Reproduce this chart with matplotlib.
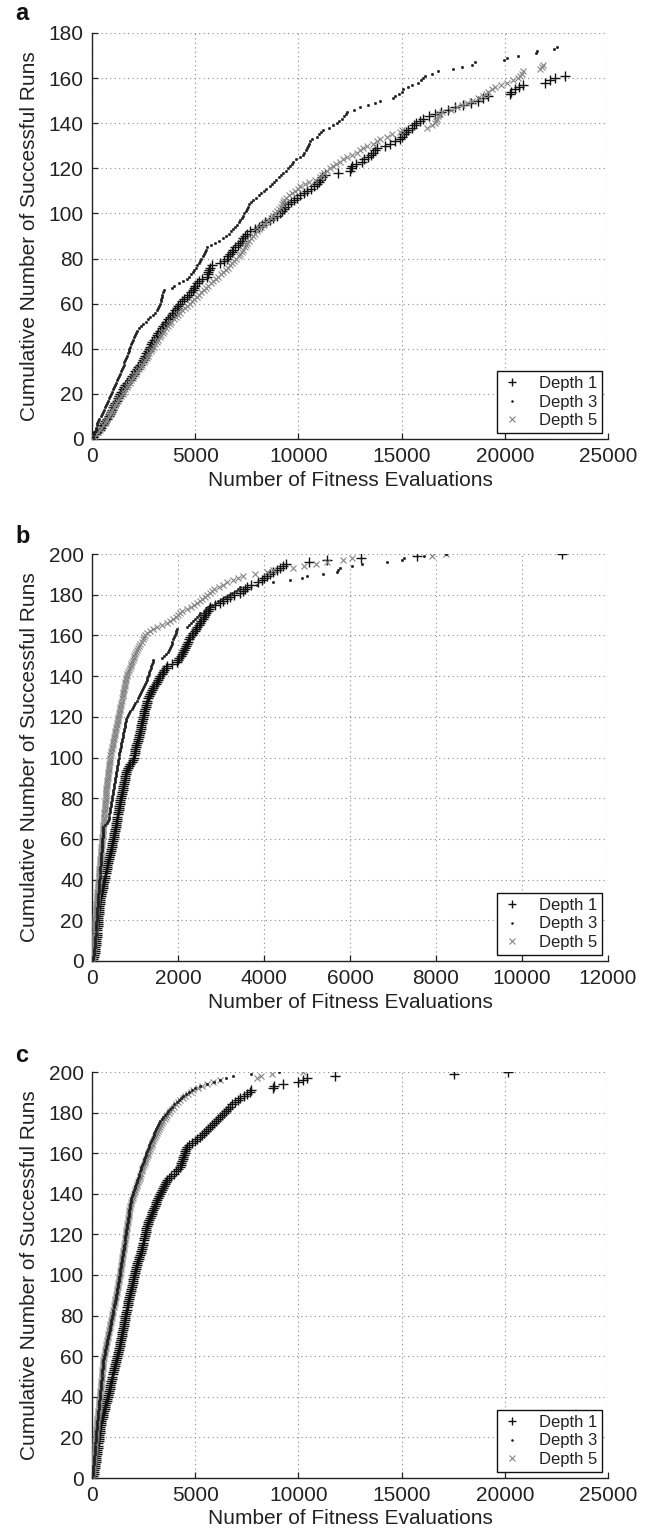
import matplotlib
matplotlib.use("Agg")
import matplotlib.pyplot as plt
import numpy as np

plt.rcParams['font.family'] = ['Liberation Sans', 'DejaVu Sans']

# ---------------- data: fitness evaluations at which each successful run finished ----------------
# Panel a
a_depth1 = [60, 150, 240, 390, 430, 520, 600, 650, 730, 800, 870, 930, 960, 1010, 1080, 1130, 1190, 1240, 1300, 1360,
            1410, 1480, 1530, 1600, 1700, 1840, 1880, 1950, 2040, 2090, 2160, 2250, 2330, 2400, 2460, 2510, 2580, 2630, 2690, 2750, 2810,
            2870, 2920, 3010, 3080, 3150, 3220, 3300, 3380, 3460, 3520, 3600, 3680, 3780, 3880, 3940, 4020, 4100, 4180, 4270, 4370, 4480, 4590,
            4680, 4790, 4870, 4950, 5010, 5070, 5200, 5330, 5560, 5600, 5640, 5690, 5720, 5800, 6200, 6380, 6520, 6610, 6700, 6780, 6850,
            6930, 7050, 7150, 7250, 7330, 7420, 7530, 7650, 7900, 8100, 8220, 8400, 8600, 8780, 8950, 9100, 9200, 9280, 9350, 9500, 9650, 9800, 9950, 10080,
            10250, 10400, 10600, 10750, 10890, 11000, 11050, 11150, 11290, 11940, 12500, 12530, 12580, 12800, 13070, 13200, 13390,
            13500, 13620, 13700, 13790, 14200, 14440, 14700, 14900, 15000, 15100, 15200, 15330, 15500, 15600, 15700,
            15900, 16050, 16350, 16620, 16900, 17260, 17600, 17990, 18350, 18720, 18950, 19200,
            20250, 20300, 20500, 20700, 20900, 21950, 22200, 22430, 22920]
a_depth3 = [30, 80, 120, 170, 200, 230, 260, 300, 360, 420, 480, 540, 590, 640, 700, 750, 790, 830, 870,
            920, 970, 1010, 1060, 1110, 1150, 1200, 1260, 1300, 1350, 1390, 1440, 1480, 1530, 1570, 1620, 1650, 1690,
            1730, 1770, 1810, 1850, 1890, 1930, 1970, 2020, 2070, 2120, 2170,
            2260, 2380, 2490, 2600, 2700, 2830, 2950, 3050, 3130,
            3200, 3250, 3290, 3320, 3350, 3380, 3410, 3440, 3470,
            3900, 3960, 4200, 4400, 4590,
            4700, 4800, 4880, 4960, 5020, 5100, 5160, 5230, 5300, 5360, 5420, 5480, 5530, 5580,
            5750, 5950, 6150, 6350, 6500, 6620, 6750, 6850,
            6950, 7030, 7100, 7180, 7250, 7310, 7380, 7440, 7500, 7560, 7630, 7700, 7810,
            7950, 8100, 8200, 8350, 8450, 8600, 8700, 8800, 8900, 9050, 9150, 9270,
            9400, 9500, 9600, 9680, 9750, 9900, 10080,
            10200, 10280, 10350, 10400, 10450, 10500, 10560, 10650,
            10890, 11000, 11100, 11210, 11500, 11700, 11850,
            11950, 12100, 12200, 12300, 12340, 12700, 12990,
            13350, 13700, 13950, 14600,
            14700, 14850, 15000, 15050, 15300, 15490,
            15800, 15950, 16050, 16130,
            16450, 16780, 17500, 17940, 18400, 18560,
            19950, 20090, 20660, 21500, 21580, 22400, 22520]
a_depth5 = [80, 180, 280, 380, 450, 530, 610, 680, 740, 800, 860, 930, 990, 1050, 1110, 1180, 1250, 1320, 1400, 1480,
            1550, 1610, 1680, 1760, 1830, 1900, 1980, 2050, 2130, 2200, 2280, 2360, 2430, 2500, 2580, 2650, 2720, 2780, 2850, 2920,
            2990, 3060, 3130, 3200, 3280, 3350, 3430, 3510, 3600, 3680, 3760, 3850, 3950, 4050, 4150, 4260, 4370, 4490, 4610, 4730,
            4850, 4960, 5080, 5190, 5300, 5420, 5530, 5640, 5760, 5880, 6000, 6120, 6240, 6360, 6480, 6600, 6700, 6800, 6900, 7000,
            7100, 7180, 7260, 7330, 7400, 7460, 7520, 7600, 7700, 7800, 7900, 8000, 8100, 8200, 8320, 8440, 8550, 8650, 8760, 8870,
            8980, 9080, 9150, 9200, 9250, 9300, 9420, 9560, 9700, 9840, 9980, 10100, 10300, 10500, 10800, 11050,
            11150, 11250, 11400, 11550, 11700, 11800, 12000, 12150, 12340, 12600, 12820, 13000, 13150, 13300,
            13600, 13800, 13950, 14300, 14520, 14920, 15000, 16215, 16450, 16618,
            16650, 16700, 16750, 16850, 16950, 17400, 17700, 17910, 18150, 18400,
            18718, 18950, 19100, 19200, 19400, 19525, 19800, 20092,
            20400, 20650, 20750, 20850, 20900, 21700, 21800, 21870]

# Panel b
b_depth1 = [30, 40, 50, 60, 66, 72, 78, 84, 90, 96, 100, 105, 110, 115, 120, 124, 128, 132, 136, 140,
            145, 150, 155, 160, 164, 168, 172, 176, 181, 186,
            196, 206, 216, 226, 236, 246, 256, 266, 276, 286, 298, 308, 318, 329, 340,
            350, 360, 371, 382, 392, 403, 413, 424, 434, 445, 455, 466, 476, 486, 496,
            505, 514, 522, 531, 540, 548, 557, 566, 574, 583, 592, 600, 608, 617, 626, 634, 643, 651,
            661, 671, 680, 690, 700, 710, 720, 729, 739, 749, 758, 768, 778, 788, 797, 807,
            830, 860, 890, 920, 961, 970, 980, 990, 1000,
            1010, 1020, 1030, 1045, 1060, 1075, 1090, 1100, 1110, 1120, 1130, 1140, 1150, 1160, 1170, 1180, 1190, 1200, 1210, 1220, 1235, 1250, 1260, 1272,
            1290, 1310, 1330, 1360, 1380, 1400, 1420, 1450, 1480, 1505,
            1530, 1560, 1590, 1620, 1650, 1680, 1710, 1737,
            1850, 1970,
            2000, 2030, 2060, 2090, 2110, 2140, 2160, 2180, 2203,
            2230, 2260, 2290, 2330, 2360, 2390, 2420, 2450, 2480, 2512,
            2540, 2570, 2600, 2630, 2660, 2690, 2720, 2745,
            2850, 2977, 3050, 3150, 3210, 3300, 3442,
            3500, 3560, 3598, 3700, 3869, 3950, 4000, 4063,
            4150, 4218, 4300, 4380, 4450, 4510,
            5040, 5460, 6257, 7567, 10925]
b_depth3 = [20, 30, 40, 45, 50, 55, 60, 64, 68, 72, 76, 80, 84, 88, 92, 95, 98, 101, 104, 107,
            110, 113, 116, 119, 122, 125, 128, 131, 135, 140,
            144, 147, 151, 154, 158, 161, 164, 168, 171, 174, 178, 181, 185, 188, 191, 195, 198, 202, 205, 208,
            212, 215, 219, 222, 225, 229, 232, 236, 239, 242, 246, 249, 253, 256, 259, 263,
            300, 340, 370, 390, 400, 405, 412, 419,
            427, 435, 443, 450, 458, 466, 474, 481, 489, 497, 505, 512, 520, 528, 535, 543, 551, 558, 566, 574, 582, 590, 597, 605, 612, 620,
            630, 639, 648, 658, 667, 676, 686, 695, 704, 714, 723, 732, 742, 751, 760, 770, 779, 788, 798, 807,
            830, 860, 890, 920, 950, 980, 1010, 1040, 1065, 1090, 1117,
            1140, 1160, 1185, 1205, 1230, 1250, 1272,
            1290, 1305, 1320, 1335, 1350, 1365, 1380, 1395, 1410, 1426,
            1630, 1680, 1720, 1760, 1790, 1815,
            1830, 1850, 1870, 1890, 1910, 1930, 1950, 1960, 1970,
            2200, 2250, 2300, 2360, 2400, 2440, 2480, 2512,
            2600, 2650, 2700,
            2780, 2860, 2940, 3020, 3100, 3180, 3260, 3340, 3400, 3442,
            3830, 4200, 4605, 4877,
            5000, 5365, 5690, 5720, 5760, 6050,
            6280, 6855, 7203, 7260, 7722, 8227]
b_depth5 = [10, 15, 20, 24, 28, 32, 36, 40, 44, 47, 50, 53, 56, 59, 62, 65, 68, 71, 74, 77,
            80, 83, 86, 89, 92, 95, 98, 101, 105, 109,
            113, 117, 122, 126, 130, 135, 139, 143, 147, 152, 156, 160, 165, 169, 173, 178, 182, 186, 190, 195,
            199, 203, 208, 212, 216, 220, 225, 229, 233, 238, 242, 246, 250, 255, 259, 263,
            267, 271, 275, 279, 283, 287, 290, 294, 298, 302, 306, 310, 314, 318, 322, 326, 330, 334, 337, 341,
            347, 352, 358, 363, 369, 375, 380, 386, 391, 397, 402, 408, 413, 419,
            429, 438, 448, 458, 467, 477, 487, 497, 506, 516, 526, 535, 545, 555, 564, 574, 584, 594, 603, 613,
            623, 632, 642, 652, 661, 671, 681, 691, 700, 710, 720, 729, 739, 749, 758, 768, 778, 788, 797, 807,
            825, 843, 861, 879, 897, 915, 933, 950, 968, 986, 1004, 1022, 1040,
            1069, 1098, 1127, 1156, 1185, 1214, 1243, 1272,
            1350, 1426, 1500, 1620, 1745, 1820, 1891,
            1950, 2000, 2050, 2086, 2200, 2300, 2380, 2435,
            2500, 2560, 2620, 2680, 2745, 2790, 2840,
            2950, 3050, 3133, 3290, 3400, 3520,
            3800, 4063, 4220, 4683,
            4930, 5210, 5460, 5846, 6040, 7900, 8227]

# Panel c
c_depth1 = [65, 80, 95, 110, 125, 140, 155, 170, 185, 200, 215, 230, 245, 260, 275, 290, 305, 318, 331, 344,
            355, 366, 377, 383, 388,
            412, 436, 460, 485, 509, 533, 557, 582, 606, 630, 654, 679, 703, 727, 751, 775, 800, 824, 848, 872,
            895, 918, 941, 964, 987, 1010, 1034, 1057, 1080, 1103, 1126, 1149, 1172, 1195, 1218, 1241, 1265, 1288, 1311, 1334, 1357,
            1376, 1395, 1414, 1433, 1452, 1471, 1490, 1509, 1528, 1547, 1566, 1585, 1604, 1623, 1642, 1661, 1680,
            1702, 1724, 1746, 1768, 1790, 1812, 1834, 1856, 1878, 1900, 1922, 1944, 1966, 1988, 2010, 2030, 2050,
            2075, 2100, 2125, 2150, 2175, 2200, 2250, 2275, 2300, 2325, 2350, 2375, 2400, 2425, 2450, 2475, 2500, 2525, 2550, 2575, 2600, 2620, 2635, 2650,
            2690, 2730, 2770, 2810, 2850, 2890, 2930, 2970, 3010, 3050, 3090, 3110, 3134,
            3180, 3230, 3280, 3330, 3380, 3430, 3480, 3530, 3580, 3618,
            3720, 3820, 3950, 4050, 4150, 4264,
            4300, 4330, 4360, 4400, 4430, 4460, 4500, 4530, 4560, 4587,
            4700, 4850, 4980, 5100, 5232,
            5330, 5430, 5520, 5620, 5717,
            5810, 5910, 6010, 6100, 6201,
            6300, 6400, 6500, 6590, 6686,
            6800, 6920, 7050, 7170,
            7350, 7500, 7655, 7700,
            8784, 8800, 9268, 9995, 10240,
            10433, 11773, 17540, 20140]
c_depth3 = [15, 25, 35, 45, 55, 65, 75, 85, 95, 105, 115, 123, 131, 139, 147, 155, 163, 171, 179, 187,
            195, 203, 211, 219, 228,
            238, 248, 258, 268, 278, 288, 298, 308, 318, 328, 338, 348, 358, 368, 378, 388, 398, 408, 418, 428,
            438, 448, 458, 468, 478, 488, 498, 508, 518, 528, 538, 545, 552,
            570, 590, 610, 630, 650, 670, 690, 710, 730, 750, 770, 790, 810, 830, 850, 865, 880,
            900, 920, 940, 960, 980, 1000, 1020, 1040, 1060, 1080, 1100, 1120, 1140, 1160, 1180, 1200,
            1215, 1230, 1245, 1260, 1275, 1290, 1305, 1320, 1335, 1350, 1365, 1380, 1395, 1410, 1425,
            1440, 1455, 1470, 1485, 1500, 1515, 1530, 1545, 1560, 1575, 1590, 1605, 1620, 1635, 1650, 1665,
            1680, 1695, 1710, 1725, 1740, 1755, 1770, 1785, 1800, 1815, 1830, 1845, 1855, 1868, 1880,
            1912, 1944, 1976, 2008, 2040, 2072, 2104, 2136, 2168, 2200, 2230, 2260, 2290,
            2325, 2360, 2395, 2430, 2465, 2500, 2535, 2570, 2605, 2640, 2675, 2710, 2740, 2770, 2800,
            2845, 2890, 2935, 2980, 3025, 3070, 3115, 3160, 3205, 3250, 3300,
            3380, 3460, 3540, 3620, 3700, 3780,
            3880, 3990, 4100, 4200, 4300,
            4430, 4560, 4700, 4850, 5000,
            5250, 5555, 5900,
            6200, 6500, 6846, 7700, 9076]
c_depth5 = [10, 20, 30, 40, 50, 60, 70, 80, 90, 100, 110, 118, 126, 134, 142, 150, 158, 166, 174, 182,
            190, 199, 208, 217, 226,
            236, 246, 256, 266, 275, 285, 295, 305, 315, 324, 334, 344, 354, 364, 373, 383, 393, 403, 413, 422,
            432, 442, 452, 461, 471, 481, 490, 500, 510, 520, 530, 540, 549,
            568, 587, 606, 625, 644, 663, 682, 701, 720, 739, 758, 777, 796, 815, 834, 853, 872,
            892, 912, 932, 952, 972, 993, 1013, 1033, 1053, 1074, 1094, 1114, 1134, 1155, 1175, 1196,
            1212, 1228, 1244, 1260, 1276, 1292, 1308, 1324, 1340, 1356, 1372, 1388, 1404, 1418, 1430,
            1445, 1460, 1475, 1490, 1505, 1520, 1535, 1550, 1565, 1580, 1595, 1610, 1625, 1640, 1655, 1670,
            1685, 1700, 1715, 1730, 1745, 1760, 1775, 1790, 1805, 1815, 1828, 1841,
            1873, 1905, 1937, 1970, 2002, 2035, 2067, 2100, 2132, 2165,
            2200, 2235, 2270, 2305, 2340, 2375, 2410, 2445, 2480, 2515, 2550, 2585, 2620, 2650,
            2690, 2730, 2770, 2810, 2850, 2890, 2930, 2970, 3010, 3050, 3090, 3134,
            3190, 3240, 3290, 3350, 3400, 3457,
            3520, 3590, 3650, 3720, 3780,
            3880, 3970, 4070, 4170, 4264,
            4390, 4520, 4650, 4780, 4910,
            5120, 5340, 5555,
            5880, 6200,
            7980, 8200, 8700, 10240]

series_labels = ["Depth 1", "Depth 3", "Depth 5"]
panel_letters = ["a", "b", "c"]
x_limits = [25000, 12000, 25000]
x_steps = [5000, 2000, 5000]
y_limits = [180, 200, 200]

panels = [(a_depth1, a_depth3, a_depth5),
          (b_depth1, b_depth3, b_depth5),
          (c_depth1, c_depth3, c_depth5)]

# ---------------- figure ----------------
W, H = 654, 1538
fig = plt.figure(figsize=(W / 100, H / 100), dpi=100)

# axes boxes in pixels: (left, top, right, bottom)
boxes = [(92, 33, 608, 439), (92, 554, 608, 961), (92, 1072, 608, 1478)]
letter_y = [14, 536, 1055]

styles = [dict(marker='+', color='#111111', ms=7, mew=1.0, zorder=3),
          dict(marker='.', color='#1e1e1e', ms=3.2, mew=0.5, zorder=5),
          dict(marker='x', color='#858585', ms=5, mew=0.8, zorder=4)]

txt_color = '#222222'
for i, (series, box) in enumerate(zip(panels, boxes)):
    l, t, r, b = box
    ax = fig.add_axes([l / W, 1 - b / H, (r - l) / W, (b - t) / H])
    for vals, lab, st in zip(series, series_labels, styles):
        xs = np.array(vals)
        ys = np.arange(1, len(xs) + 1)
        ax.plot(xs, ys, linestyle='none', label=lab, **st)
    ax.set_xlim(0, x_limits[i])
    ax.set_ylim(0, y_limits[i])
    ax.set_xticks(np.arange(0, x_limits[i] + 1, x_steps[i]))
    ax.set_yticks(np.arange(0, y_limits[i] + 1, 20))
    ax.grid(True, linestyle=(0, (1, 3)), color='#8a8a8a', linewidth=0.8)
    ax.set_axisbelow(True)
    for s in ['top', 'right']:
        ax.spines[s].set_visible(False)
    for s in ['left', 'bottom']:
        ax.spines[s].set_linewidth(1.0)
        ax.spines[s].set_color('#222222')
    ax.tick_params(direction='in', length=4, width=0.9, labelsize=15, colors='#222222',
                   labelcolor=txt_color, pad=6)
    ax.set_xlabel("Number of Fitness Evaluations", fontsize=15, color=txt_color, labelpad=3)
    ax.set_ylabel("Cumulative Number of Successful Runs", fontsize=15, color=txt_color, labelpad=7)
    leg = ax.legend(loc='lower right', fontsize=12, frameon=True, fancybox=False,
                    edgecolor='#111111', framealpha=1, handlelength=1.2, handletextpad=1.0,
                    borderpad=0.3, labelspacing=0.22, markerscale=0.8,
                    borderaxespad=0.35)
    leg.set_zorder(10)
    leg.get_frame().set_linewidth(1.0)
    for tx in leg.get_texts():
        tx.set_color(txt_color)
    fig.text(15 / W, 1 - letter_y[i] / H, panel_letters[i], fontsize=17, fontweight='bold',
             ha='left', va='center', color='#111111')

fig.savefig("out.png", dpi=100)
